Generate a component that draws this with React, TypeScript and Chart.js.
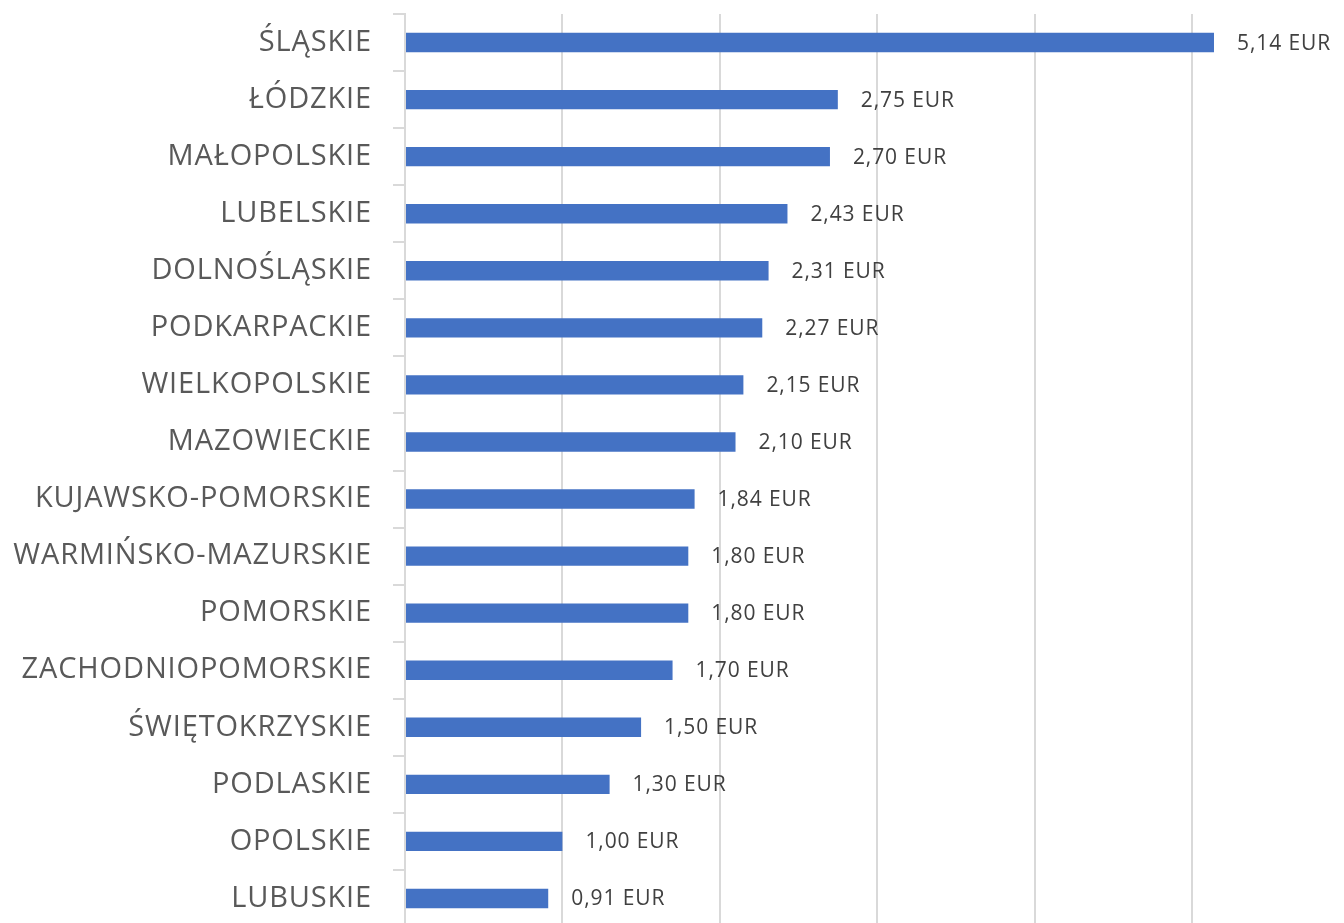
import React, { useEffect, useRef } from "react";
import { Chart, registerables } from "chart.js";

Chart.register(...registerables);

const categories: string[] = [
  "ŚLĄSKIE",
  "ŁÓDZKIE",
  "MAŁOPOLSKIE",
  "LUBELSKIE",
  "DOLNOŚLĄSKIE",
  "PODKARPACKIE",
  "WIELKOPOLSKIE",
  "MAZOWIECKIE",
  "KUJAWSKO-POMORSKIE",
  "WARMIŃSKO-MAZURSKIE",
  "POMORSKIE",
  "ZACHODNIOPOMORSKIE",
  "ŚWIĘTOKRZYSKIE",
  "PODLASKIE",
  "OPOLSKIE",
  "LUBUSKIE",
];

const values: number[] = [
  5.14, 2.75, 2.7, 2.43, 2.31, 2.27, 2.15, 2.1, 1.84, 1.8, 1.8, 1.7, 1.5, 1.3, 1.0, 0.91,
];

const unit = "EUR";

const formatValue = (v: number) => v.toFixed(2).replace(".", ",") + " " + unit;

const spacing = {
  id: "spacing",
  beforeDraw(chart: any) {
    chart.ctx.letterSpacing = "0.85px";
  },
};

const valueLabels = {
  id: "valueLabels",
  afterDatasetsDraw(chart: any) {
    const ctx = chart.ctx;
    const meta = chart.getDatasetMeta(0);
    ctx.save();
    ctx.letterSpacing = "0.9px";
    ctx.font = "21px 'Open Sans'";
    ctx.fillStyle = "#404040";
    ctx.textAlign = "left";
    ctx.textBaseline = "middle";
    meta.data.forEach((bar: any, i: number) => {
      ctx.fillText(formatValue(values[i]), bar.x + 23, bar.y + 1);
    });
    ctx.restore();
  },
};

export default function App() {
  const ref = useRef<HTMLCanvasElement | null>(null);

  useEffect(() => {
    if (!ref.current) return;
    const chart = new Chart(ref.current, {
      type: "bar",
      data: {
        labels: categories,
        datasets: [
          {
            data: values,
            backgroundColor: "#4472C4",
            borderWidth: 0,
            categoryPercentage: 1,
            barPercentage: 0.34,
          },
        ],
      },
      options: {
        indexAxis: "y",
        animation: false,
        responsive: true,
        maintainAspectRatio: false,
        layout: { padding: { top: 14, right: 0, bottom: 13, left: 0 } },
        plugins: {
          legend: { display: false },
          tooltip: { enabled: false },
        },
        scales: {
          x: {
            min: 0,
            max: 5.966,
            ticks: { display: false, stepSize: 1 },
            grid: { color: "#d9d9d9", lineWidth: 2, drawTicks: false },
            border: { display: false },
            afterBuildTicks: (scale: any) => {
              scale.ticks = scale.ticks.filter((t: any) => Number.isInteger(t.value));
            },
            afterFit: (scale: any) => {
              scale.height = 0;
              scale.paddingLeft = 0;
              scale.paddingRight = 0;
            },
          },
          y: {
            ticks: {
              color: "#595959",
              font: { family: "'Open Sans'", size: 29 },
              padding: 21,
            },
            grid: {
              drawOnChartArea: false,
              drawTicks: true,
              tickLength: 12,
              color: "#d9d9d9",
              lineWidth: 2,
              offset: true,
            },
            border: { display: true, color: "#d9d9d9", width: 2 },
            afterFit: (scale: any) => {
              scale.width = 405;
              scale.paddingTop = 0;
              scale.paddingBottom = 0;
            },
          },
        },
      },
      plugins: [spacing, valueLabels],
    });
    return () => chart.destroy();
  }, []);

  return (
    <div
      style={{
        position: "fixed",
        left: 0,
        top: 0,
        width: 1344,
        height: 923,
        overflow: "hidden",
        background: "#ffffff",
      }}
    >
      <div style={{ position: "absolute", left: 0, top: 0, width: 1344, height: 940 }}>
        <canvas ref={ref} />
      </div>
    </div>
  );
}
